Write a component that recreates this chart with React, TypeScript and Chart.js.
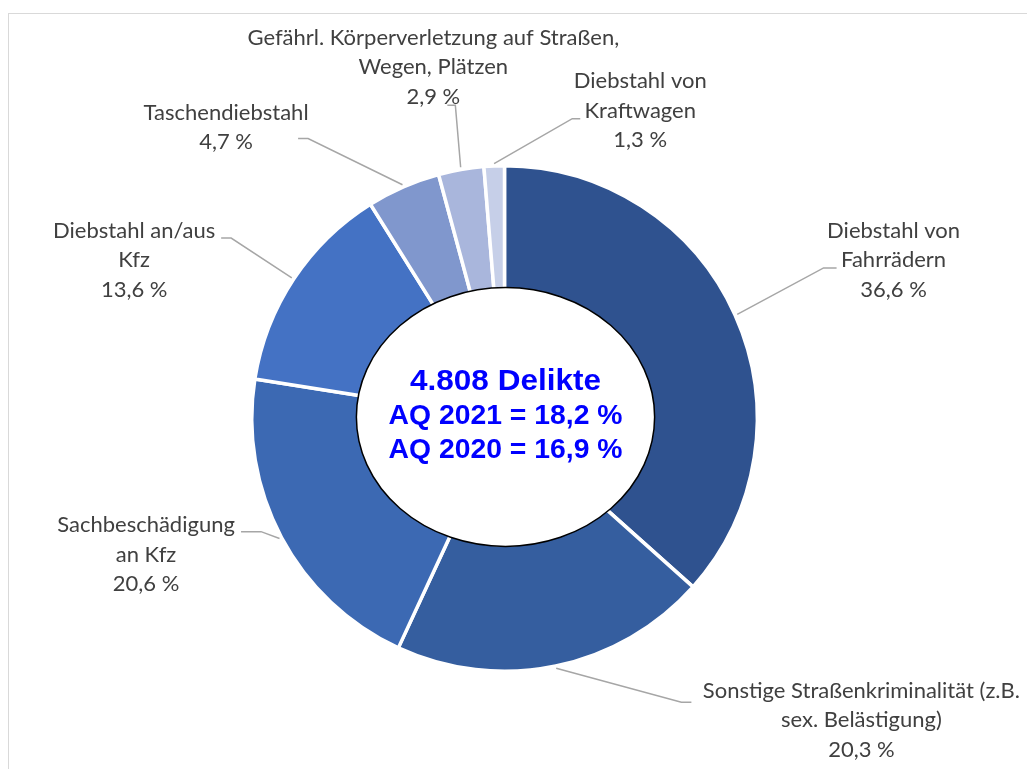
import React, { useEffect, useRef } from "react";
import { Chart, registerables } from "chart.js";

Chart.register(...registerables);

// ---- data ----
const categories: string[][] = [
  ["Diebstahl von", "Fahrrädern"],
  ["Sonstige Straßenkriminalität (z.B.", "sex. Belästigung)"],
  ["Sachbeschädigung", "an Kfz"],
  ["Diebstahl an/aus", "Kfz"],
  ["Taschendiebstahl"],
  ["Gefährl. Körperverletzung auf Straßen,", "Wegen, Plätzen"],
  ["Diebstahl von", "Kraftwagen"],
];
const shares: number[] = [36.6, 20.3, 20.6, 13.6, 4.7, 2.9, 1.3];
const sliceColors: string[] = [
  "#2f528f",
  "#355e9f",
  "#3c69b3",
  "#4472c4",
  "#8097cd",
  "#a9b6dc",
  "#c6cfe8",
];
const centerLines: string[] = ["4.808 Delikte", "AQ 2021 = 18,2 %", "AQ 2020 = 16,9 %"];

// label placement, relative to each slice's outer mid point:
// [elbowDx, elbowDy, endDx, endDy, labelDx, labelDy]
const labelLayout: number[][] = [
  [90, -48, 103, -48, 160, -56],
  [126, 38, 136, 38, 306, 56],
  [-22, -5, -42, -5, -137, 18],
  [-64, -42, -74, -42, -161, -20],
  [-96, -50, -106, -50, -178, -61],
  [-6, -66, -14, -66, -28, -104],
  [78, -49, 86, -49, 146, -57],
];

const fmt = (v: number) => v.toFixed(1).replace(".", ",") + " %";

const overlayPlugin = {
  id: "overlay",
  afterDatasetsDraw(chart: any) {
    const ctx: CanvasRenderingContext2D = chart.ctx;
    const meta = chart.getDatasetMeta(0);
    let cx = 0, cy = 0, R = 0;
    meta.data.forEach((arc: any, i: number) => {
      const p = arc.getProps(["x", "y", "startAngle", "endAngle", "outerRadius"], true);
      cx = p.x; cy = p.y; R = p.outerRadius;
      const mid = (p.startAngle + p.endAngle) / 2;
      const ar = p.outerRadius - 1.75;
      const ax = p.x + Math.cos(mid) * ar;
      const ay = p.y + Math.sin(mid) * ar;
      const sx = p.x + Math.cos(mid) * (ar + 4);
      const sy = p.y + Math.sin(mid) * (ar + 4);
      const L = labelLayout[i];
      ctx.save();
      ctx.strokeStyle = "#a6a6a6";
      ctx.lineWidth = 1.5;
      ctx.beginPath();
      ctx.moveTo(sx, sy);
      ctx.lineTo(ax + L[0], ay + L[1]);
      ctx.lineTo(ax + L[2], ay + L[3]);
      ctx.stroke();
      const lines = [...categories[i], fmt(shares[i])];
      const lh = 29.5;
      const lx = ax + L[4];
      const ly = ay + L[5];
      ctx.fillStyle = "#404040";
      ctx.font = "22px Lato";
      ctx.textAlign = "center";
      ctx.textBaseline = "middle";
      lines.forEach((t, k) => {
        ctx.fillText(t, lx, ly + (k - (lines.length - 1) / 2) * lh);
      });
      ctx.restore();
    });

    // center ellipse
    const ex = cx + 1;
    const ey = cy - 1.5;
    ctx.save();
    ctx.beginPath();
    ctx.ellipse(ex, ey, R * 0.59, R * 0.512, 0, 0, Math.PI * 2);
    ctx.fillStyle = "#ffffff";
    ctx.fill();
    ctx.lineWidth = 1.5;
    ctx.strokeStyle = "#000000";
    ctx.stroke();
    ctx.fillStyle = "#0000ff";
    ctx.textAlign = "center";
    ctx.textBaseline = "middle";
    const offs = [-35, -0.5, 33.5];
    const fonts = ["bold 30px 'Liberation Sans', Arial", "bold 27px 'Liberation Sans', Arial", "bold 27px 'Liberation Sans', Arial"];
    centerLines.forEach((t, k) => {
      ctx.save();
      ctx.translate(ex, ey + offs[k]);
      ctx.scale(1.05, 1);
      ctx.font = fonts[k];
      ctx.fillText(t, 0, 0);
      ctx.restore();
    });
    ctx.restore();
  },
};

export default function App() {
  const ref = useRef<HTMLCanvasElement | null>(null);
  useEffect(() => {
    if (!ref.current) return;
    const chart = new Chart(ref.current, {
      type: "doughnut",
      data: {
        labels: categories.map((c) => c.join(" ")),
        datasets: [
          {
            data: shares,
            backgroundColor: sliceColors,
            borderColor: "#ffffff",
            borderWidth: 3.5,
          },
        ],
      },
      options: {
        responsive: false,
        animation: false,
        events: [],
        cutout: "50%",
        layout: { padding: { left: 250, top: 164, right: 268, bottom: 96 } },
        plugins: {
          legend: { display: false },
          tooltip: { enabled: false },
        },
      },
      plugins: [overlayPlugin],
    });
    return () => chart.destroy();
  }, []);
  return (
    <div style={{ position: "fixed", left: 0, top: 0, width: "1027px", height: "769px", overflow: "hidden", background: "#fff" }}>
      <div
        style={{
          position: "absolute",
          left: "8px",
          top: "13px",
          width: "1100px",
          height: "900px",
          borderLeft: "1px solid #d9d9d9",
          borderTop: "1px solid #d9d9d9",
        }}
      />
      <canvas ref={ref} width={1027} height={769} style={{ position: "absolute", left: 0, top: 0 }} />
    </div>
  );
}
